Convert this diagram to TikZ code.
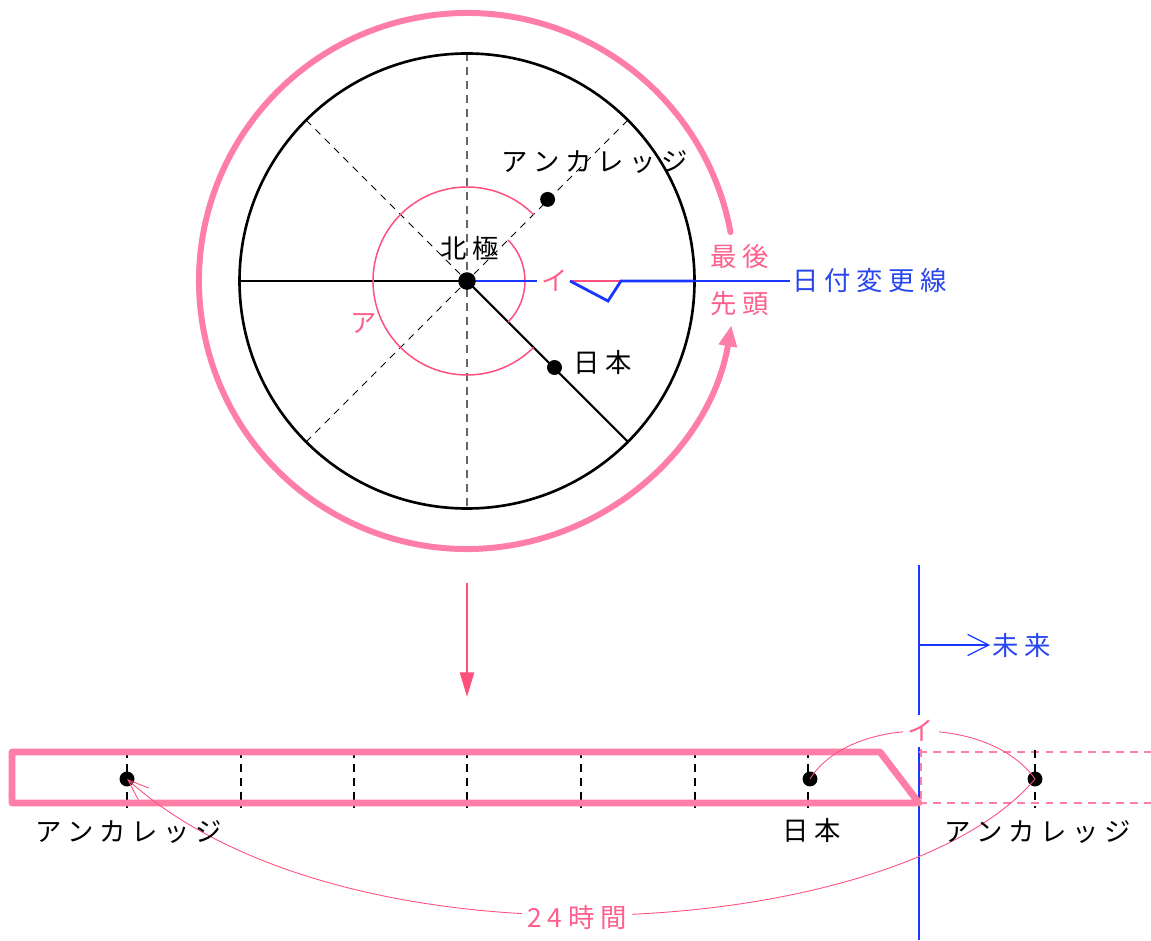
\documentclass[tikz,border=0pt]{standalone}
\usepackage{fontspec}
\newfontfamily\jp[LetterSpace=22]{Noto Sans CJK JP}
\usetikzlibrary{arrows.meta}
\definecolor{pkthick}{RGB}{255,126,168}
\definecolor{pkline}{RGB}{255,80,125}
\definecolor{pktext}{RGB}{255,95,140}
\definecolor{bl}{RGB}{25,55,255}
\definecolor{bltext}{RGB}{40,70,235}
\begin{document}
\begin{tikzpicture}[x=0.02cm,y=0.02cm,
  lbl/.style={font=\jp\fontsize{15pt}{17pt}\selectfont, inner sep=1pt},
  dot/.style={circle, fill=black, inner sep=0pt, minimum size=8.5pt},
  vdash/.style={draw=black!60, line width=0.9pt, dash pattern=on 4.5pt off 3.4pt},
  ddash/.style={draw=black, line width=0.5pt, dash pattern=on 4pt off 3.5pt},
  blk/.style={draw=black, line width=1.2pt},
  pkarc/.style={draw=pkline, line width=0.85pt},
  thinpk/.style={draw=pkline, line width=0.5pt},
  boxpk/.style={draw=pkthick, line width=3.9pt, line join=round},
  tick/.style={draw=black, line width=0.6pt, dash pattern=on 4.5pt off 3.5pt},
  pkdash/.style={draw=pkthick, line width=1.1pt, dash pattern=on 4.5pt off 3.5pt}]
\useasboundingbox (0,0) rectangle (1151,940);

% ---------- top: the globe ----------
\coordinate (C) at (467,659);
\coordinate (E0) at (239.5,659);
\coordinate (E0r) at (694.5,659);
\coordinate (E90) at (467,886.5);
\coordinate (E270) at (467,431.5);
\coordinate (E45) at (627.9,819.9);
\coordinate (E135) at (306.1,819.9);
\coordinate (E225) at (306.1,498.1);
\coordinate (E315) at (627.9,498.1);

\draw[vdash] (E90) -- (E270);
\draw[ddash] (E45) -- (E225);
\draw[ddash] (E135) -- (C);

\draw[draw=black, line width=1.5pt] (C) circle[radius=227.5];
\draw[blk] (E0) -- (C);
\draw[blk] (C) -- (E315);

% inner angle arcs
\draw[pkarc] ([shift={(45:94)}]C) arc[start angle=45, end angle=315, radius=94];
\draw[pkarc] ([shift={(-45:58)}]C) arc[start angle=-45, end angle=45, radius=58];

% date line (blue) with notch
\coordinate (B1) at (537,659);
\coordinate (B2) at (570,659);
\coordinate (B3) at (608,639);
\coordinate (B4) at (621,659);
\draw[draw=pkline, line width=1.2pt] (B2) -- (B4);
\draw[draw=bl, line width=1.6pt] (C) -- (B1);
\draw[draw=bl, line width=1.6pt, line join=miter] (B2) -- (B3) -- (B4) -- (E0r);
\node[lbl, text=bltext, anchor=west] (dl) at (790,659) {日付変更線};
\draw[draw=bl, line width=0.6pt] (E0r) -- (dl.west);

% big rotation arrow
\draw[draw=pkthick, line width=3.4pt, line cap=round,
  -{Triangle[length=12pt, width=10pt]}]
  ([shift={(10.5:268)}]C) arc[start angle=10.5, end angle=350.5, radius=268];

% dots
\node[dot, minimum size=10pt] (np) at (C) {};
\node[dot] (anc) at (547.6,740.6) {};
\node[dot] (jpn) at (554.5,572.5) {};

% labels
\node[lbl] (lnp) at (470,692) {北極};
\node[lbl] (lanc) at (595,778) {アンカレッジ};
\node[lbl] (ljp) at (603,577) {日本};
\node[lbl, text=pktext] (la) at (364,617) {ア};
\node[lbl, text=pktext] (li) at (555,659) {イ};
\node[lbl, text=pktext] (llast) at (740,683) {最後};
\node[lbl, text=pktext] (lfirst) at (740,636) {先頭};

% ---------- bottom: the strip ----------
\coordinate (A1) at (467,357);
\coordinate (A2) at (467,243);
\draw[draw=pkline, line width=1.3pt, -{Triangle[length=14pt, width=8pt]}] (A1) -- (A2);

% date line vertical and future arrow
\coordinate (V1) at (919,375);
\coordinate (V2) at (919,0);
\coordinate (F0) at (919,295);
\draw[draw=bl, line width=0.7pt] (V1) -- (V2);
\node[lbl, text=bltext, anchor=west] (fut) at (990,295) {未来};
\draw[draw=bl, line width=0.7pt, -{Straight Barb[length=12pt, width=12pt]}] (F0) -- (fut.west);

% dashed continuation on the right
\coordinate (D1) at (919,188);
\coordinate (D2) at (1151,188);
\coordinate (D3) at (919,137);
\coordinate (D4) at (1151,137);
\coordinate (D5) at (921,205);
\coordinate (D6) at (921,137);
\draw[pkdash] (D1) -- (D2);
\draw[pkdash] (D3) -- (D4);
\draw[pkdash] (D5) -- (D6);

% ticks
\foreach \x in {127,241,354,467,581,695,808,1035}
  \draw[tick] (\x,190) -- (\x,132);

% the strip
\draw[boxpk] (12,188) -- (880,188) -- (919,137) -- (12,137) -- cycle;

% dots
\node[dot] (ancL) at (127,161) {};
\node[dot] (jpnB) at (810,161) {};
\node[dot] (ancR) at (1035,161) {};

% curves
\draw[thinpk] (jpnB.center) .. controls (850,225) and (990,225) .. (ancR.center);
\draw[thinpk, -{Straight Barb[length=12pt, width=9pt]}]
  (ancR.center) .. controls (900,0) and (350,-40) .. (ancL.center);

\node[lbl, text=pktext, fill=white, inner sep=3pt] (liB) at (921,209) {イ};
\node[lbl, text=pktext, fill=white, inner sep=3pt] (l24) at (577,23) {24時間};

\node[lbl] (lancL) at (129,108) {アンカレッジ};
\node[lbl] (ljpB) at (812,110) {日本};
\node[lbl] (lancR) at (1038,108) {アンカレッジ};
\end{tikzpicture}
\end{document}
